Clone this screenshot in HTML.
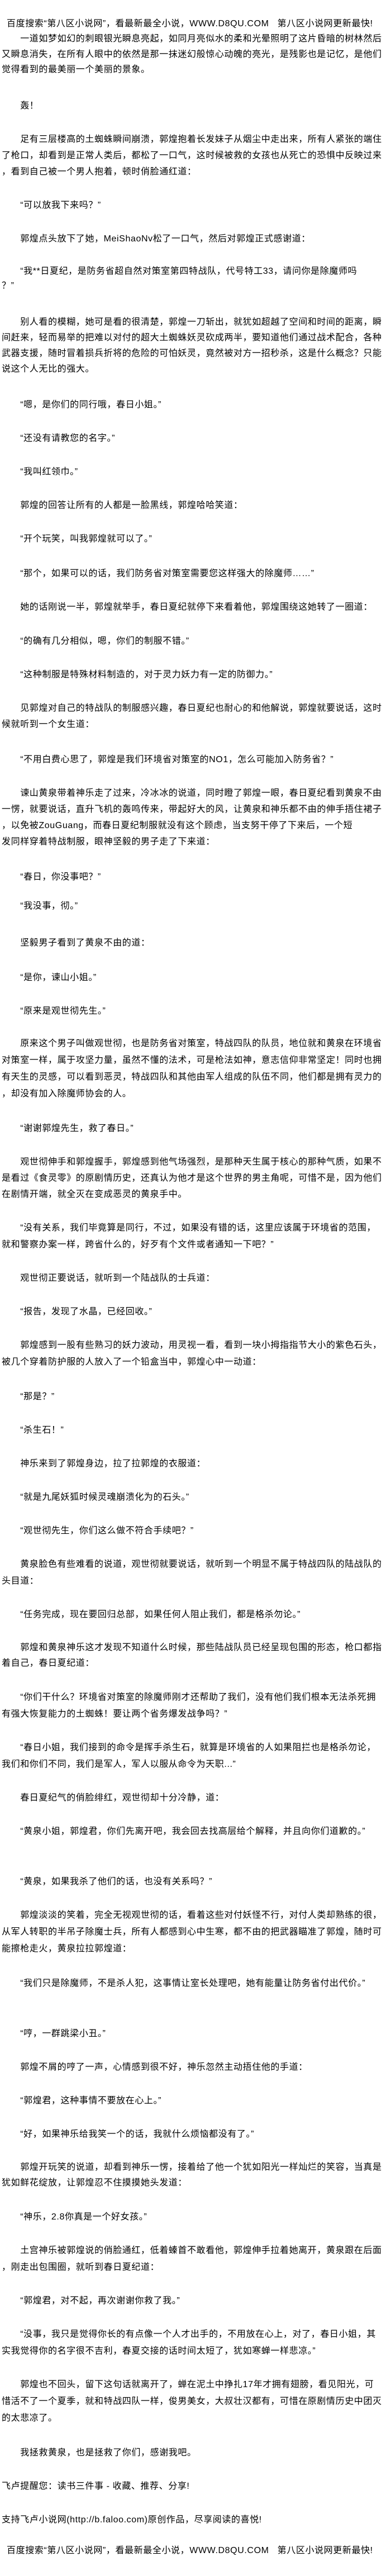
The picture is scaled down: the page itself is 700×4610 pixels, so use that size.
<!DOCTYPE html>
<html><head><meta charset="utf-8">
<style>
html,body{margin:0;padding:0;background:#fff;}
body{width:700px;height:4610px;position:relative;overflow:hidden;}
.p{position:absolute;left:3px;white-space:nowrap;line-height:29px;font-size:16px;letter-spacing:0.6px;color:#000;
font-family:"Liberation Sans","Noto Sans CJK SC","WenQuanYi Zen Hei",sans-serif;}
</style></head><body>
<div class="p" style="top:28px;left:12px">百度搜索“第八区小说网”，看最新最全小说，WWW.D8QU.COM&nbsp;&nbsp;&nbsp;第八区小说网更新最快!</div>
<div class="p" style="top:56px;line-height:27.5px">　　一道如梦如幻的刺眼银光瞬息亮起，如同月亮似水的柔和光晕照明了这片昏暗的树林然后<br>又瞬息消失，在所有人眼中的依然是那一抹迷幻般惊心动魄的亮光，是残影也是记忆，是他们<br>觉得看到的最美丽一个美丽的景象。</div>
<div class="p" style="top:175px">　　轰！</div>
<div class="p" style="top:235px">　　足有三层楼高的土蜘蛛瞬间崩溃，郭煌抱着长发妹子从烟尘中走出来，所有人紧张的端住<br>了枪口，却看到是正常人类后，都松了一口气，这时候被救的女孩也从死亡的恐惧中反映过来<br>，看到自己被一个男人抱着，顿时俏脸通红道：</div>
<div class="p" style="top:353px">　　“可以放我下来吗？”</div>
<div class="p" style="top:413px">　　郭煌点头放下了她，MeiShaoNv松了一口气，然后对郭煌正式感谢道：</div>
<div class="p" style="top:473px;line-height:26px">　　“我**日夏纪，是防务省超自然对策室第四特战队，代号特工33，请问你是除魔师吗<br>？”</div>
<div class="p" style="top:563px;line-height:28px">　　别人看的模糊，她可是看的很清楚，郭煌一刀斩出，就犹如超越了空间和时间的距离，瞬<br>间赶来，轻而易举的把难以对付的超大土蜘蛛妖灵砍成两半，要知道他们通过战术配合，各种<br>武器支援，随时冒着损兵折将的危险的可怕妖灵，竟然被对方一招秒杀，这是什么概念？只能<br>说这个人无比的强大。</div>
<div class="p" style="top:710px">　　“嗯，是你们的同行哦，春日小姐。”</div>
<div class="p" style="top:770px">　　“还没有请教您的名字。”</div>
<div class="p" style="top:830px">　　“我叫红领巾。”</div>
<div class="p" style="top:890px">　　郭煌的回答让所有的人都是一脸黑线，郭煌哈哈笑道：</div>
<div class="p" style="top:950px">　　“开个玩笑，叫我郭煌就可以了。”</div>
<div class="p" style="top:1012px">　　“那个，如果可以的话，我们防务省对策室需要您这样强大的除魔师……”</div>
<div class="p" style="top:1072px">　　她的话刚说一半，郭煌就举手，春日夏纪就停下来看着他，郭煌围绕这她转了一圈道：</div>
<div class="p" style="top:1133px">　　“的确有几分相似，嗯，你们的制服不错。”</div>
<div class="p" style="top:1193px">　　“这种制服是特殊材料制造的，对于灵力妖力有一定的防御力。”</div>
<div class="p" style="top:1253px">　　见郭煌对自己的特战队的制服感兴趣，春日夏纪也耐心的和他解说，郭煌就要说话，这时<br>候就听到一个女生道：</div>
<div class="p" style="top:1345px">　　“不用白费心思了，郭煌是我们环境省对策室的NO1，怎么可能加入防务省？”</div>
<div class="p" style="top:1405px">　　谏山黄泉带着神乐走了过来，冷冰冰的说道，同时瞪了郭煌一眼，春日夏纪看到黄泉不由<br>一愣，就要说话，直升飞机的轰鸣传来，带起好大的风，让黄泉和神乐都不由的伸手捂住裙子<br>，以免被ZouGuang，而春日夏纪制服就没有这个顾虑，当支努干停了下来后，一个短<br>发同样穿着特战制服，眼神坚毅的男子走了下来道：</div>
<div class="p" style="top:1555px">　　“春日，你没事吧？”</div>
<div class="p" style="top:1607px">　　“我没事，彻。”</div>
<div class="p" style="top:1673px">　　坚毅男子看到了黄泉不由的道：</div>
<div class="p" style="top:1735px">　　“是你，谏山小姐。”</div>
<div class="p" style="top:1795px">　　“原来是观世彻先生。”</div>
<div class="p" style="top:1853px;line-height:30px">　　原来这个男子叫做观世彻，也是防务省对策室，特战四队的队员，地位就和黄泉在环境省<br>对策室一样，属于攻坚力量，虽然不懂的法术，可是枪法如神，意志信仰非常坚定！同时也拥<br>有天生的灵感，可以看到恶灵，特战四队和其他由军人组成的队伍不同，他们都是拥有灵力的<br>，却没有加入除魔师协会的人。</div>
<div class="p" style="top:2005px">　　“谢谢郭煌先生，救了春日。”</div>
<div class="p" style="top:2065px">　　观世彻伸手和郭煌握手，郭煌感到他气场强烈，是那种天生属于核心的那种气质，如果不<br>是看过《食灵零》的原剧情历史，还真认为他才是这个世界的男主角呢，可惜不是，因为他们<br>在剧情开端，就全灭在变成恶灵的黄泉手中。</div>
<div class="p" style="top:2183px;line-height:30px">　　“没有关系，我们毕竟算是同行，不过，如果没有错的话，这里应该属于环境省的范围，<br>就和警察办案一样，跨省什么的，好歹有个文件或者通知一下吧？”</div>
<div class="p" style="top:2273px">　　观世彻正要说话，就听到一个陆战队的士兵道：</div>
<div class="p" style="top:2333px">　　“报告，发现了水晶，已经回收。”</div>
<div class="p" style="top:2393px;line-height:30px">　　郭煌感到一股有些熟习的妖力波动，用灵视一看，看到一块小拇指指节大小的紫色石头，<br>被几个穿着防护服的人放入了一个铅盒当中，郭煌心中一动道：</div>
<div class="p" style="top:2485px">　　“那是？”</div>
<div class="p" style="top:2545px">　　“杀生石！”</div>
<div class="p" style="top:2605px">　　神乐来到了郭煌身边，拉了拉郭煌的衣服道：</div>
<div class="p" style="top:2665px">　　“就是九尾妖狐时候灵魂崩溃化为的石头。”</div>
<div class="p" style="top:2725px">　　“观世彻先生，你们这么做不符合手续吧？”</div>
<div class="p" style="top:2785px;line-height:30px">　　黄泉脸色有些难看的说道，观世彻就要说话，就听到一个明显不属于特战四队的陆战队的<br>头目道：</div>
<div class="p" style="top:2875px">　　“任务完成，现在要回归总部，如果任何人阻止我们，都是格杀勿论。”</div>
<div class="p" style="top:2935px;line-height:28px">　　郭煌和黄泉神乐这才发现不知道什么时候，那些陆战队员已经呈现包围的形态，枪口都指<br>着自己，春日夏纪道：</div>
<div class="p" style="top:3023px;line-height:30px">　　“你们干什么？环境省对策室的除魔师刚才还帮助了我们，没有他们我们根本无法杀死拥<br>有强大恢复能力的土蜘蛛！要让两个省务爆发战争吗？”</div>
<div class="p" style="top:3113px;line-height:30px">　　“春日小姐，我们接到的命令是挥手杀生石，就算是环境省的人如果阻拦也是格杀勿论，<br>我们和你们不同，我们是军人，军人以服从命令为天职...”</div>
<div class="p" style="top:3203px">　　春日夏纪气的俏脸绯红，观世彻却十分冷静，道：</div>
<div class="p" style="top:3263px">　　“黄泉小姐，郭煌君，你们先离开吧，我会回去找高层给个解释，并且向你们道歉的。”</div>
<div class="p" style="top:3353px">　　“黄泉，如果我杀了他们的话，也没有关系吗？”</div>
<div class="p" style="top:3413px;line-height:30px">　　郭煌淡淡的笑着，完全无视观世彻的话，看着这些对付妖怪不行，对付人类却熟练的很，<br>从军人转职的半吊子除魔士兵，所有人都感到心中生寒，都不由的把武器瞄准了郭煌，随时可<br>能擦枪走火，黄泉拉拉郭煌道：</div>
<div class="p" style="top:3535px">　　“我们只是除魔师，不是杀人犯，这事情让室长处理吧，她有能量让防务省付出代价。”</div>
<div class="p" style="top:3625px">　　“哼，一群跳梁小丑。”</div>
<div class="p" style="top:3685px">　　郭煌不屑的哼了一声，心情感到很不好，神乐忽然主动捂住他的手道：</div>
<div class="p" style="top:3745px">　　“郭煌君，这种事情不要放在心上。”</div>
<div class="p" style="top:3805px">　　“好，如果神乐给我笑一个的话，我就什么烦恼都没有了。”</div>
<div class="p" style="top:3865px;line-height:28px">　　郭煌开玩笑的说道，却看到神乐一愣，接着给了他一个犹如阳光一样灿烂的笑容，当真是<br>犹如鲜花绽放，让郭煌忍不住摸摸她头发道：</div>
<div class="p" style="top:3953px">　　“神乐，2.8你真是一个好女孩。”</div>
<div class="p" style="top:4013px;line-height:30px">　　土宫神乐被郭煌说的俏脸通红，低着螓首不敢看他，郭煌伸手拉着她离开，黄泉跟在后面<br>，刚走出包围圈，就听到春日夏纪道：</div>
<div class="p" style="top:4103px">　　“郭煌君，对不起，再次谢谢你救了我。”</div>
<div class="p" style="top:4163px;line-height:30px">　　“没事，我只是觉得你长的有点像一个人才出手的，不用放在心上，对了，春日小姐，其<br>实我觉得你的名字很不吉利，春夏交接的话时间太短了，犹如寒蝉一样悲凉。”</div>
<div class="p" style="top:4253px;line-height:30px">　　郭煌也不回头，留下这句话就离开了，蝉在泥土中挣扎17年才拥有翅膀，看见阳光，可<br>惜活不了一个夏季，就和特战四队一样，俊男美女，大叔壮汉都有，可惜在原剧情历史中团灭<br>的太悲凉了。</div>
<div class="p" style="top:4375px">　　我拯救黄泉，也是拯救了你们，感谢我吧。</div>
<div class="p" style="top:4435px">飞卢提醒您：读书三件事 - 收藏、推荐、分享!</div>
<div class="p" style="top:4495px">支持飞卢小说网(http://b.faloo.com)原创作品，尽享阅读的喜悦!</div>
<div class="p" style="top:4550px;left:12px">百度搜索“第八区小说网”，看最新最全小说，WWW.D8QU.COM&nbsp;&nbsp;&nbsp;第八区小说网更新最快!</div>
</body></html>
